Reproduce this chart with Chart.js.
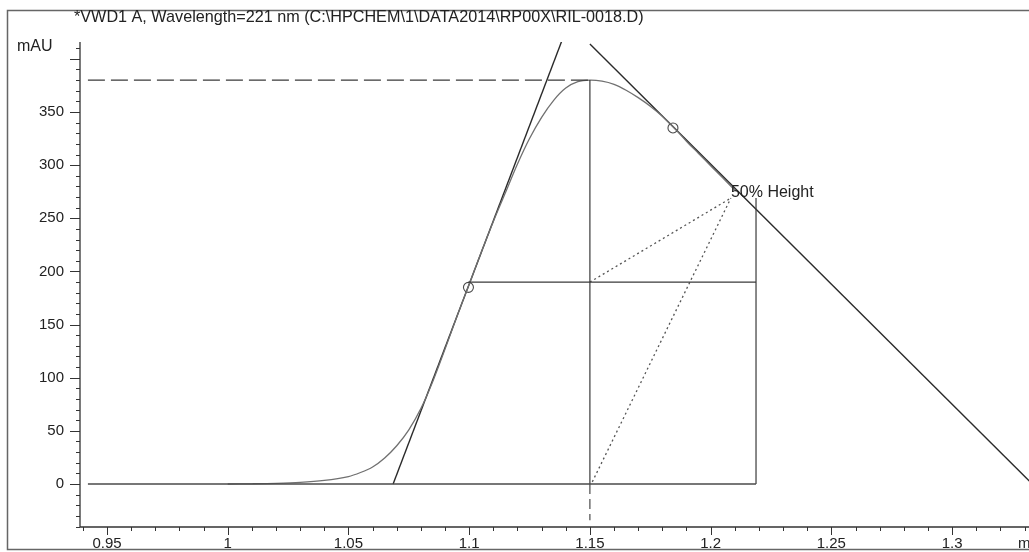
<!DOCTYPE html>
<html>
<head>
<meta charset="utf-8">
<script src="https://cdn.jsdelivr.net/npm/chart.js@4.4.1/dist/chart.umd.min.js"></script>
<style>
  html, body { margin: 0; padding: 0; background: #fff; overflow: hidden; }
  #wrap { position: absolute; left: 0; top: 0; width: 1100px; height: 552px; }
</style>
</head>
<body>
<div id="wrap"><canvas id="c" width="1100" height="552"></canvas></div>
<script>
// Signal trace (retention time in min, absorbance in mAU)
const signalTime = [1.000, 1.010, 1.020, 1.030, 1.040, 1.050, 1.055, 1.060, 1.065, 1.070,
                    1.075, 1.080, 1.085, 1.090, 1.095, 1.100, 1.105, 1.110, 1.115, 1.120,
                    1.125, 1.130, 1.135, 1.140, 1.145, 1.150, 1.155, 1.160, 1.165, 1.170,
                    1.175, 1.180, 1.185, 1.190, 1.195, 1.200, 1.205, 1.210];
const signalMAU  = [0, 0.2, 0.6, 1.5, 3.4, 7, 10.8, 16, 24.5, 36,
                    51, 71, 97, 127, 158, 188, 218, 247, 274, 301,
                    325, 345, 361, 372.5, 378.5, 380, 379, 376, 370.5, 363.5,
                    355.5, 346, 335, 322.5, 311, 299.5, 288, 276.5];

// Construction lines of the peak-width evaluation
const baselineSeg   = [[0.9421, 0], [1.2188, 0]];
const peakHeightSeg = [[0.9421, 380], [1.15, 380]];
const apexDrop      = [[1.15, 0], [1.15, 380]];
const apexBelow     = [[1.15, 0], [1.15, -34]];
const leftTangent   = [[1.0685, 0], [1.1385, 417.7]];
const rightTangent  = [[1.15, 414], [1.335, -4]];
const halfHeightSeg = [[1.0997, 190], [1.2188, 190]];
const tailDrop      = [[1.2188, 0], [1.2188, 269]];
const labelAnchor   = [1.2084, 269];
const guideFromHalf = [[1.15, 190], labelAnchor];
const guideFromBase = [[1.151, 2], labelAnchor];
const tangentPoints = [[1.0997, 185], [1.1844, 335]];

// Axis settings
const yLabelValues = [0, 50, 100, 150, 200, 250, 300, 350];
const yMajorStep = 50, yMinorStep = 10;
const xMajorStep = 0.05, xMinorStep = 0.01;
const titleText = '*VWD1 A, Wavelength=221 nm (C:\\HPCHEM\\1\\DATA2014\\RP00X\\RIL-0018.D)';
const yUnit = 'mAU';
const xUnit = 'min';
const halfLabel = '50% Height';

const FONT = '"Liberation Sans", Arial, sans-serif';
const toPts = arr => arr.map(([x, y]) => ({ x, y }));

const seg = (data, color, width, dash) => ({
  data: toPts(data), showLine: true, pointRadius: 0, pointHoverRadius: 0,
  borderColor: color, borderWidth: width, borderDash: dash || [], fill: false, tension: 0
});

const datasets = [
  seg(baselineSeg, '#4a4a4a', 1.3),
  seg(peakHeightSeg, '#3a3a3a', 1.2, [17, 6]),
  seg(apexDrop, '#3a3a3a', 1.2),
  seg(apexBelow, '#3a3a3a', 1.1, [10, 5]),
  seg(halfHeightSeg, '#3a3a3a', 1.2),
  seg(tailDrop, '#3a3a3a', 1.2),
  seg(guideFromHalf, '#555', 1.3, [2, 3]),
  seg(guideFromBase, '#555', 1.3, [2, 3]),
  {
    data: signalTime.map((t, i) => ({ x: t, y: signalMAU[i] })),
    showLine: true, pointRadius: 0, borderColor: '#707070', borderWidth: 1.3,
    fill: false, tension: 0.3
  },
  seg(leftTangent, '#2a2a2a', 1.4),
  seg(rightTangent, '#2a2a2a', 1.4),
  {
    data: toPts(tangentPoints), showLine: false, pointRadius: 5, pointHoverRadius: 5,
    pointStyle: 'circle', pointBackgroundColor: 'rgba(0,0,0,0)',
    pointBorderColor: '#4a4a4a', pointBorderWidth: 1.1
  }
];

const isMultiple = (v, step) => Math.abs(v / step - Math.round(v / step)) < 1e-6;

const decor = {
  id: 'decor',
  beforeDraw(chart) {
    const { ctx } = chart;
    ctx.save();
    ctx.fillStyle = '#fff';
    ctx.fillRect(0, 0, chart.width, chart.height);
    // outer frame
    ctx.strokeStyle = '#666';
    ctx.lineWidth = 1.5;
    ctx.strokeRect(7.5, 10.5, chart.width + 20, 539);
    ctx.restore();
  },
  afterDraw(chart) {
    const { ctx, chartArea: a, scales: { x, y } } = chart;
    ctx.save();
    ctx.strokeStyle = '#333';
    ctx.lineWidth = 1.3;
    // axis lines
    ctx.beginPath();
    ctx.moveTo(a.left, a.top);
    ctx.lineTo(a.left, a.bottom);
    ctx.lineTo(a.right, a.bottom);
    ctx.stroke();
    // y tick marks
    ctx.lineWidth = 1;
    ctx.beginPath();
    for (let v = Math.ceil(y.min / yMinorStep) * yMinorStep; v <= y.max; v += yMinorStep) {
      const py = Math.round(y.getPixelForValue(v)) + 0.5;
      const len = isMultiple(v, yMajorStep) ? 10 : 4;
      ctx.moveTo(a.left - len, py);
      ctx.lineTo(a.left, py);
    }
    // x tick marks
    const xStart = Math.ceil(x.min / xMinorStep - 1e-6);
    for (let k = xStart; k * xMinorStep <= x.max; k++) {
      const v = k * xMinorStep;
      const px = Math.round(x.getPixelForValue(v)) + 0.5;
      const len = isMultiple(v, xMajorStep) ? 8 : 4;
      ctx.moveTo(px, a.bottom);
      ctx.lineTo(px, a.bottom + len);
    }
    ctx.stroke();

    ctx.fillStyle = '#222';
    ctx.textBaseline = 'middle';
    ctx.textAlign = 'left';
    // title
    ctx.font = '16.2px ' + FONT;
    ctx.fillText(titleText, 74, 18);
    // unit labels
    ctx.font = '16px ' + FONT;
    ctx.fillText(yUnit, 17, 47);
    ctx.font = '15px ' + FONT;
    ctx.fillText(xUnit, 1018, 544);
    // half-height annotation
    ctx.font = '16px ' + FONT;
    const lx = x.getPixelForValue(labelAnchor[0]);
    const ly = y.getPixelForValue(labelAnchor[1]);
    ctx.fillText(halfLabel, lx, ly - 5);
    ctx.restore();
  }
};

new Chart(document.getElementById('c'), {
  type: 'scatter',
  data: { datasets },
  options: {
    responsive: false,
    animation: false,
    devicePixelRatio: 1,
    layout: { padding: { top: 42, right: 10, left: 0, bottom: 0 } },
    plugins: { legend: { display: false }, tooltip: { enabled: false }, title: { display: false } },
    events: [],
    scales: {
      x: {
        type: 'linear',
        min: 0.93882,
        max: 1.35712,
        grid: { display: false, drawTicks: false },
        border: { display: false },
        afterFit: s => { s.height = 25; },
        ticks: {
          stepSize: xMinorStep,
          autoSkip: false,
          includeBounds: false,
          maxRotation: 0,
          padding: 8,
          color: '#222',
          font: { family: FONT, size: 15 },
          callback: v => isMultiple(v, xMajorStep) ? String(Math.round(v * 100) / 100) : ''
        }
      },
      y: {
        type: 'linear',
        min: -40.46,
        max: 415.86,
        grid: { display: false, drawTicks: false },
        border: { display: false },
        afterFit: s => { s.width = 80; },
        ticks: {
          stepSize: yMinorStep,
          autoSkip: false,
          includeBounds: false,
          padding: 16,
          color: '#222',
          font: { family: FONT, size: 15 },
          callback: v => yLabelValues.some(l => Math.abs(l - v) < 1e-6) ? String(Math.round(v)) : ''
        }
      }
    }
  },
  plugins: [decor]
});
</script>
</body>
</html>
